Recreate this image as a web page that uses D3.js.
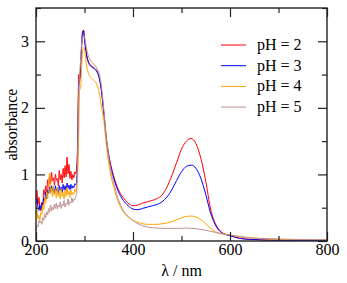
<!DOCTYPE html>
<html>
<head>
<meta charset="utf-8">
<script src="https://cdn.jsdelivr.net/npm/d3@7"></script>
<style>
  body { margin: 0; background: #fff; }
</style>
</head>
<body>
<div id="chart"></div>
<script>
const width = 347;
const height = 283;
const margin = { top: 8, right: 20, bottom: 42, left: 36 };
const innerW = width - margin.left - margin.right;
const innerH = height - margin.top - margin.bottom;
const serif = '"Liberation Serif", "Times New Roman", Times, serif';
const fontSize = "16px";

// wavelength grid (nm)
const wavelength = [
  200, 202, 204, 206, 208, 210, 212, 214, 216, 218, 220, 222, 224, 226, 228, 230,
  232, 234, 236, 238, 240, 242, 244, 246, 248, 250, 252, 254, 256, 258, 260, 262,
  264, 266, 268, 270, 272, 274, 276, 278, 280, 282, 284,
  286, 288, 290, 292, 294, 296, 298, 300, 304, 308, 312, 316, 320, 325, 330, 335,
  340, 345, 350, 355, 360, 370, 380, 390, 400, 410, 420, 430, 440, 450, 460, 470,
  480, 490, 500, 510, 520, 530, 540, 550, 560, 570, 580, 590, 600, 620, 640, 660,
  680, 700, 750, 800
];

const ph2 = [
  0.62, 0.76, 0.55, 0.66, 0.49, 0.45, 0.58, 0.53, 0.77, 0.70, 0.83, 0.69, 0.92, 0.80, 0.97, 0.86,
  1.03, 0.90, 0.95, 0.84, 1.00, 0.91, 0.94, 0.83, 1.06, 0.92, 1.00, 0.87, 1.09, 0.95, 1.13, 0.96,
  1.26, 1.01, 1.15, 0.94, 1.05, 0.92, 1.00, 0.95, 1.04, 1.01, 1.14,
  1.55, 2.50, 2.44, 2.58, 2.92, 3.12, 3.17, 3.05, 2.82, 2.70, 2.65, 2.62, 2.60, 2.56, 2.47, 2.26,
  1.92, 1.55, 1.30, 1.12, 0.98, 0.77, 0.65, 0.57, 0.53, 0.54, 0.57, 0.59, 0.61, 0.64, 0.69, 0.81,
  0.98, 1.18, 1.38, 1.50, 1.54, 1.46, 1.24, 0.90, 0.48, 0.26, 0.15, 0.10, 0.08, 0.04, 0.025, 0.018,
  0.014, 0.012, 0.010, 0.008
];

const ph3 = [
  0.56, 0.63, 0.51, 0.46, 0.54, 0.47, 0.57, 0.55, 0.65, 0.61, 0.73, 0.63, 0.77, 0.71, 0.81, 0.73,
  0.83, 0.75, 0.79, 0.71, 0.83, 0.75, 0.79, 0.71, 0.83, 0.76, 0.81, 0.73, 0.85, 0.77, 0.83, 0.75,
  0.87, 0.79, 0.84, 0.77, 0.85, 0.79, 0.83, 0.80, 0.86, 0.84, 0.92,
  1.35, 2.30, 2.40, 2.62, 2.92, 3.14, 3.16, 3.02, 2.80, 2.68, 2.63, 2.61, 2.59, 2.55, 2.46, 2.25,
  1.90, 1.52, 1.27, 1.09, 0.95, 0.74, 0.61, 0.53, 0.48, 0.47, 0.49, 0.51, 0.53, 0.55, 0.59, 0.66,
  0.77, 0.91, 1.04, 1.12, 1.14, 1.09, 0.94, 0.70, 0.42, 0.24, 0.14, 0.10, 0.08, 0.04, 0.025, 0.018,
  0.014, 0.012, 0.010, 0.008
];

const ph4 = [
  0.42, 0.47, 0.33, 0.39, 0.31, 0.43, 0.39, 0.54, 0.47, 0.65, 0.57, 0.73, 0.63, 0.87, 1.02, 0.71,
  0.79, 0.67, 0.83, 0.69, 0.77, 0.65, 0.81, 0.67, 0.75, 0.63, 0.79, 0.67, 0.73, 0.63, 0.77, 0.67,
  0.81, 0.69, 0.75, 0.65, 0.77, 0.69, 0.73, 0.70, 0.78, 0.74, 0.84,
  1.00, 1.60, 2.27, 2.30, 2.60, 2.84, 2.91, 2.88, 2.65, 2.52, 2.46, 2.43, 2.41, 2.36, 2.24, 2.02,
  1.80, 1.45, 1.16, 0.96, 0.82, 0.58, 0.44, 0.36, 0.31, 0.28, 0.26, 0.25, 0.25, 0.25, 0.26, 0.27,
  0.29, 0.32, 0.35, 0.37, 0.375, 0.36, 0.32, 0.26, 0.19, 0.14, 0.11, 0.10, 0.09, 0.06, 0.045, 0.035,
  0.03, 0.025, 0.02, 0.018
];

const ph5 = [
  0.15, 0.23, 0.21, 0.31, 0.27, 0.30, 0.25, 0.35, 0.31, 0.41, 0.35, 0.44, 0.39, 0.49, 0.43, 0.54,
  0.45, 0.51, 0.47, 0.55, 0.49, 0.57, 0.48, 0.54, 0.51, 0.59, 0.49, 0.55, 0.53, 0.61, 0.51, 0.57,
  0.55, 0.63, 0.54, 0.59, 0.57, 0.65, 0.58, 0.63, 0.62, 0.67, 0.72,
  1.30, 2.20, 2.50, 2.72, 2.96, 3.06, 3.09, 3.06, 2.90, 2.78, 2.72, 2.68, 2.65, 2.60, 2.52, 2.32,
  1.96, 1.56, 1.26, 1.04, 0.88, 0.62, 0.46, 0.37, 0.31, 0.26, 0.23, 0.21, 0.20, 0.195, 0.19, 0.19,
  0.19, 0.19, 0.19, 0.195, 0.19, 0.185, 0.175, 0.16, 0.145, 0.13, 0.115, 0.10, 0.09, 0.07, 0.05, 0.04,
  0.035, 0.03, 0.022, 0.02
];

const seriesNames = ["pH = 2", "pH = 3", "pH = 4", "pH = 5"];
const seriesValues = [ph2, ph3, ph4, ph5];
const colors = ["#ff0000", "#0000ff", "#ffa500", "#bc8f8f"];

const xTicks = [200, 400, 600, 800];
const xMinor = [300, 500, 700];
const yTicks = [0, 1, 2, 3];
const yMinor = [0.5, 1.5, 2.5, 3.5];

const svg = d3.select("#chart")
  .append("svg")
  .attr("width", width)
  .attr("height", height)
  .style("font-family", serif);

const g = svg.append("g")
  .attr("transform", `translate(${margin.left},${margin.top})`);

const x = d3.scaleLinear().domain([200, 800]).range([0, innerW]);
const y = d3.scaleLinear().domain([0, 3.5]).range([innerH, 0]);

// spectra
const line = d3.line()
  .x(d => x(d[0]))
  .y(d => y(d[1]))
  .curve(d3.curveMonotoneX);

seriesValues.forEach((vals, i) => {
  g.append("path")
    .datum(wavelength.map((w, j) => [w, vals[j]]))
    .attr("fill", "none")
    .attr("stroke", colors[i])
    .attr("stroke-width", 1)
    .attr("d", line);
});

// axes, ticks pointing inward on all four sides
function styleAxis(sel) {
  sel.attr("font-family", null).attr("font-size", null);
  sel.select(".domain").remove();
  sel.selectAll(".tick line").attr("stroke", "#222").attr("stroke-width", 1.2);
  sel.selectAll(".tick text")
    .style("font-family", serif)
    .style("font-size", fontSize)
    .attr("fill", "#000");
}

g.append("g")
  .attr("transform", `translate(0,${innerH})`)
  .call(d3.axisBottom(x).tickValues(xTicks).tickSizeInner(-9).tickSizeOuter(0).tickPadding(3))
  .call(styleAxis);
g.append("g")
  .attr("transform", `translate(0,${innerH})`)
  .call(d3.axisBottom(x).tickValues(xMinor).tickSizeInner(-5).tickSizeOuter(0).tickFormat(""))
  .call(styleAxis);
g.append("g")
  .call(d3.axisTop(x).tickValues(xTicks).tickSizeInner(-9).tickSizeOuter(0).tickFormat(""))
  .call(styleAxis);
g.append("g")
  .call(d3.axisTop(x).tickValues(xMinor).tickSizeInner(-5).tickSizeOuter(0).tickFormat(""))
  .call(styleAxis);

g.append("g")
  .call(d3.axisLeft(y).tickValues(yTicks).tickSizeInner(-9).tickSizeOuter(0).tickPadding(7).tickFormat(d3.format("d")))
  .call(styleAxis);
g.append("g")
  .call(d3.axisLeft(y).tickValues(yMinor).tickSizeInner(-5).tickSizeOuter(0).tickFormat(""))
  .call(styleAxis);
g.append("g")
  .attr("transform", `translate(${innerW},0)`)
  .call(d3.axisRight(y).tickValues(yTicks).tickSizeInner(-9).tickSizeOuter(0).tickFormat(""))
  .call(styleAxis);
g.append("g")
  .attr("transform", `translate(${innerW},0)`)
  .call(d3.axisRight(y).tickValues(yMinor).tickSizeInner(-5).tickSizeOuter(0).tickFormat(""))
  .call(styleAxis);

// frame
g.append("rect")
  .attr("width", innerW)
  .attr("height", innerH)
  .attr("fill", "none")
  .attr("stroke", "#222")
  .attr("stroke-width", 1.4);

// axis titles
svg.append("text")
  .attr("x", margin.left + innerW / 2)
  .attr("y", 276)
  .attr("text-anchor", "middle")
  .style("font-family", serif)
  .style("font-size", fontSize)
  .text("λ / nm");

svg.append("text")
  .attr("transform", `translate(17,${margin.top + innerH / 2}) rotate(-90)`)
  .attr("text-anchor", "middle")
  .style("font-family", serif)
  .style("font-size", fontSize)
  .text("absorbance");

// legend
const legend = svg.append("g").attr("transform", "translate(221,45)");
seriesNames.forEach((name, i) => {
  const row = legend.append("g").attr("transform", `translate(0,${i * 20.7})`);
  row.append("line")
    .attr("x1", 0).attr("x2", 25)
    .attr("stroke", colors[i])
    .attr("stroke-width", 1);
  row.append("text")
    .attr("x", 36)
    .attr("y", 5)
    .style("font-family", serif)
    .style("font-size", fontSize)
    .text(name);
});
</script>
</body>
</html>
